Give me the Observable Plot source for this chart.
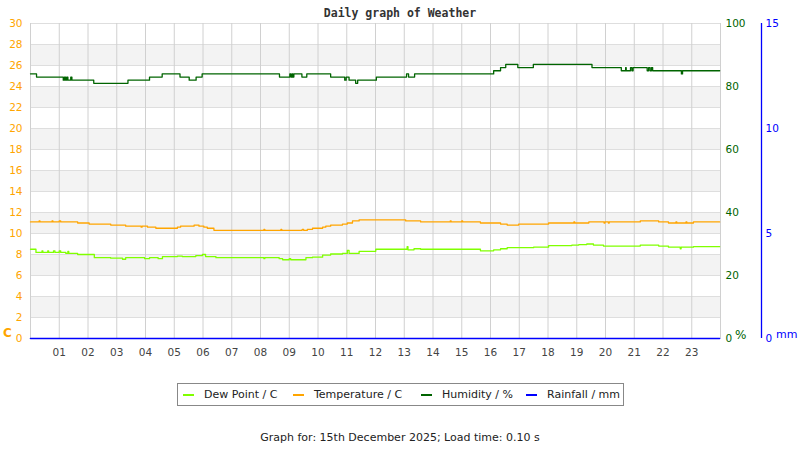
<!DOCTYPE html>
<html><head><meta charset="utf-8">
<script src="https://cdn.jsdelivr.net/npm/d3@7"></script>
<script src="https://cdn.jsdelivr.net/npm/@observablehq/plot@0.6"></script>
<style>
body{margin:0;background:#fff;font-family:"DejaVu Sans",sans-serif;}
#wrap{position:relative;width:800px;height:450px;overflow:hidden;background:#fff}
#chart{position:absolute;left:0;top:0}
.title{position:absolute;top:6px;left:0;width:800px;text-align:center;font:bold 11.5px "DejaVu Sans Mono",monospace;color:#333;line-height:14px}
.unit{position:absolute;line-height:14px}
.legend{position:absolute;left:177px;top:383px;width:445px;height:21px;border:1px solid #888;display:flex;align-items:center;font-size:11px;color:#222;box-sizing:content-box;white-space:nowrap}
.legend .it{display:flex;align-items:center;flex:none}
.legend .sw{display:inline-block;width:11px;height:2px;margin-left:5px;margin-right:10px;flex:none}
.foot{position:absolute;top:431px;left:0;width:800px;text-align:center;font-size:11px;color:#222;line-height:14px}
</style></head>
<body>
<div id="wrap">
  <div class="title">Daily graph of Weather</div>
  <div id="chart"></div>
  <div class="unit" style="left:3px;top:326px;color:#ffa500;font-weight:bold;font-size:12px">C</div>
  <div class="unit" style="left:735px;top:328px;color:#006400;font-size:12px">%</div>
  <div class="unit" style="left:776px;top:328px;color:#0000ff;font-size:11px">mm</div>
  <div class="legend">
    <div class="it" style="width:110px"><span class="sw" style="background:#80ff00"></span>Dew Point / C</div>
    <div class="it" style="width:128px"><span class="sw" style="background:#ffa500"></span>Temperature / C</div>
    <div class="it" style="width:105px"><span class="sw" style="background:#006400"></span>Humidity / %</div>
    <div class="it"><span class="sw" style="background:#0000ff"></span>Rainfall / mm</div>
  </div>
  <div class="foot">Graph for: 15th December 2025; Load time: 0.10 s</div>
</div>
<script>
// ---- tick labels ----
const hourTicks = [1,2,3,4,5,6,7,8,9,10,11,12,13,14,15,16,17,18,19,20,21,22,23];
const hourGrid  = [0,1,2,3,4,5,6,7,8,9,10,11,12,13,14,15,16,17,18,19,20,21,22,23,24];
const tempTicks = [0,2,4,6,8,10,12,14,16,18,20,22,24,26,28,30];
const bandStarts = [2,6,10,14,18,22,26];
const humTicks  = [0,20,40,60,80,100];
const rainTicks = [0,5,10,15];

// ---- series (time in hours of the day) ----
const tempTime  = [0,0.30,0.33,0.75,0.78,1.00,1.05,1.64,2.04,2.79,3.31,3.85,3.88,4.07,4.36,5.11,5.22,5.69,5.86,6.03,6.15,6.38,8.12,8.15,8.71,8.74,9.45,9.50,9.63,9.81,10.16,10.27,10.44,10.85,11.02,11.20,11.43,13.05,13.57,14.60,14.63,15.00,15.03,15.65,16.35,16.58,16.98,18.02,18.90,18.93,19.42,19.95,19.98,20.10,20.13,21.21,21.85,22.19,22.45,22.48,22.80,22.83,23.06,23.97];
const tempValue = [11.1,11.2,11.1,11.2,11.1,11.2,11.1,11.0,10.9,10.8,10.7,10.6,10.7,10.6,10.5,10.6,10.7,10.8,10.7,10.6,10.5,10.3,10.4,10.3,10.4,10.3,10.4,10.3,10.4,10.5,10.6,10.7,10.8,10.9,11.0,11.2,11.3,11.2,11.1,11.2,11.1,11.2,11.1,11.0,10.9,10.8,10.9,11.0,11.1,11.0,11.1,11.0,11.1,11.0,11.1,11.2,11.1,11.0,11.1,11.0,11.1,11.0,11.1,11.1];

const dewTime  = [0,0.19,0.40,0.43,0.60,0.63,0.80,0.85,1.00,1.05,1.23,1.30,1.33,1.64,2.22,2.79,3.20,3.31,3.97,4.14,4.44,4.59,5.11,5.28,5.75,5.98,6.09,6.45,8.12,8.15,8.65,8.77,9.00,9.05,9.58,9.81,10.16,10.44,10.85,11.02,11.08,11.43,12.01,13.10,13.13,13.34,13.57,15.65,16.11,16.35,16.58,17.50,18.02,18.83,19.07,19.35,19.58,19.93,20.63,21.21,21.85,22.19,22.60,22.63,23.06,23.97];
const dewValue = [8.5,8.2,8.35,8.2,8.35,8.2,8.35,8.2,8.35,8.2,8.1,8.3,8.1,8.0,7.7,7.65,7.55,7.7,7.6,7.7,7.6,7.8,7.85,7.8,7.9,8.0,7.8,7.7,7.6,7.7,7.6,7.5,7.6,7.5,7.7,7.75,7.95,8.05,8.1,8.4,8.1,8.3,8.5,8.75,8.45,8.55,8.5,8.35,8.45,8.55,8.65,8.7,8.85,8.9,8.95,9.0,8.9,8.8,8.8,8.9,8.8,8.7,8.55,8.7,8.75,8.75];

const humTime  = [0,0.21,1.14,1.18,1.22,1.26,1.30,1.40,1.44,2.20,3.39,4.14,4.58,5.20,5.52,5.76,5.97,8.66,9.02,9.06,9.10,9.13,9.16,9.44,9.61,10.44,10.93,10.98,11.08,11.31,11.38,12.03,13.08,13.15,13.36,16.11,16.35,16.53,16.95,17.49,19.53,20.55,20.70,20.72,20.87,20.92,20.96,21.45,21.50,21.55,21.60,21.64,22.64,22.68,23.97];
const humValue = [84,83,82,83,82,83,82,83,82,81,82,83,84,83,82,83,84,83,84,83,84,83,84,83,84,83,82,83,82,81,82,83,84,83,84,85,86,87,86,87,86,85,86,85,86,85,86,85,86,85,86,85,84,85,85];

const rainTime  = [0,23.97];
const rainValue = [0,0];

// ---- tables ----
const zip = (ts, vs) => ts.map((t,i) => ({t, v: vs[i]}));
const temp = zip(tempTime, tempValue);
const dew  = zip(dewTime, dewValue);
const hum  = zip(humTime, humValue);
const rain = zip(rainTime, rainValue);

const HUM_K = 30/100;   // humidity 0..100 shares the 0..30 axis
const RAIN_K = 30/15;   // rainfall 0..15 shares the 0..30 axis

const chart = Plot.plot({
  width: 800, height: 370,
  marginTop: 23, marginLeft: 30, marginRight: 80, marginBottom: 32,
  x: {domain: [0, 24], label: null},
  y: {domain: [0, 30], label: null},
  style: {fontFamily: "DejaVu Sans", fontSize: "10.5px", background: "transparent"},
  marks: [
    Plot.rect(bandStarts, {x1: 0, x2: 24, y1: d => d, y2: d => d + 2, fill: "#f3f3f3"}),
    Plot.ruleY(tempTicks, {stroke: "#dedede"}),
    Plot.ruleX(hourGrid, {stroke: "#d0d0d0"}),
    Plot.line(rain, {x: "t", y: d => d.v * RAIN_K, stroke: "#0000ff", strokeWidth: 1.6}),
    Plot.line(dew,  {x: "t", y: "v", stroke: "#80ff00", strokeWidth: 1.3, curve: "step-after"}),
    Plot.line(temp, {x: "t", y: "v", stroke: "#ffa500", strokeWidth: 1.3, curve: "step-after"}),
    Plot.line(hum,  {x: "t", y: d => d.v * HUM_K, stroke: "#006400", strokeWidth: 1.3, curve: "step-after"}),
    Plot.axisX({ticks: hourTicks, tickFormat: d => String(d).padStart(2, "0"), tickSize: 0, tickPadding: 10, color: "#444", label: null}),
    Plot.axisY({anchor: "left", ticks: tempTicks, tickSize: 0, tickPadding: 8, color: "#ffa500", label: null}),
    Plot.axisY({anchor: "right", ticks: humTicks.map(h => h * HUM_K), tickFormat: d => Math.round(d / HUM_K), tickSize: 0, tickPadding: 5, color: "#006400", label: null}),
    Plot.ruleX([24], {dx: 41, stroke: "#0000ff", strokeWidth: 1.3}),
    Plot.axisY({anchor: "right", ticks: rainTicks.map(r => r * RAIN_K), tickFormat: d => Math.round(d / RAIN_K), tickSize: 0, tickPadding: 4, dx: 41, color: "#0000ff", label: null})
  ]
});
document.getElementById("chart").appendChild(chart);
</script>
</body></html>
